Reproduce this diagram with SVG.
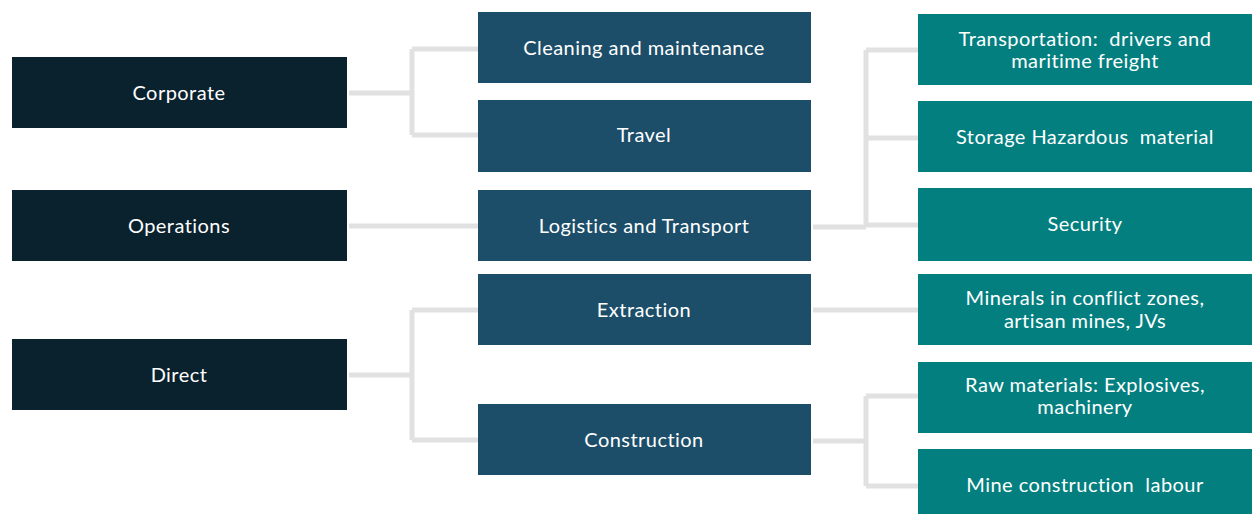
<svg xmlns="http://www.w3.org/2000/svg" width="1252" height="514" viewBox="0 0 1252 514">
<style>
.l1{fill:#0a212e}
.l2{fill:#1c4e69}
.l3{fill:#037f80}
text{font-family:Lato,"Open Sans","Liberation Sans",sans-serif;font-size:20px;letter-spacing:0.45px;fill:#ffffff;text-anchor:middle;dominant-baseline:central}
.c path{fill:none;stroke:#e1e1e1;stroke-width:5;stroke-linejoin:round}
</style>
<rect width="1252" height="514" fill="#ffffff"/>
<g class="c" id="connectors">
<path d="M349 93 H412 M412 49 V135 M412 49 H478 M412 135 H478"/>
<path d="M349 226 H478"/>
<path d="M813 227 H866 M866 50 V227 M866 50 H918 M866 138 H918 M866 225 H918"/>
<path d="M349 375 H412 M412 310 V440 M412 310 H478 M412 440 H478"/>
<path d="M813 310 H918"/>
<path d="M813 441 H866 M866 396 V486 M866 396 H918 M866 486 H918"/>
</g>
<g id="corporate"><rect class="l1" x="12" y="57" width="335" height="71"/><text x="179" y="92">Corporate</text></g>
<g id="operations"><rect class="l1" x="12" y="190" width="335" height="71"/><text x="179" y="225">Operations</text></g>
<g id="direct"><rect class="l1" x="12" y="339" width="335" height="71"/><text x="179" y="374">Direct</text></g>
<g id="cleaning"><rect class="l2" x="478" y="12" width="333" height="71"/><text x="644" y="47">Cleaning and maintenance</text></g>
<g id="travel"><rect class="l2" x="478" y="100" width="333" height="72"/><text x="644" y="134">Travel</text></g>
<g id="logistics"><rect class="l2" x="478" y="190" width="333" height="71"/><text x="644" y="225">Logistics and Transport</text></g>
<g id="extraction"><rect class="l2" x="478" y="274" width="333" height="71"/><text x="644" y="309">Extraction</text></g>
<g id="construction"><rect class="l2" x="478" y="404" width="333" height="71"/><text x="644" y="439">Construction</text></g>
<g id="transportation"><rect class="l3" x="918" y="14" width="334" height="71"/><text x="1085" y="38" xml:space="preserve">Transportation:  drivers and</text><text x="1085" y="60">maritime freight</text></g>
<g id="storage"><rect class="l3" x="918" y="101" width="334" height="71"/><text x="1085" y="136" xml:space="preserve">Storage Hazardous  material</text></g>
<g id="security"><rect class="l3" x="918" y="188" width="334" height="73"/><text x="1085" y="223">Security</text></g>
<g id="minerals"><rect class="l3" x="918" y="274" width="334" height="71"/><text x="1085" y="297">Minerals in conflict zones,</text><text x="1085" y="320">artisan mines, JVs</text></g>
<g id="raw"><rect class="l3" x="918" y="362" width="334" height="71"/><text x="1085" y="384">Raw materials: Explosives,</text><text x="1085" y="406">machinery</text></g>
<g id="labour"><rect class="l3" x="918" y="449" width="334" height="65"/><text x="1085" y="484" xml:space="preserve">Mine construction  labour</text></g>
</svg>
